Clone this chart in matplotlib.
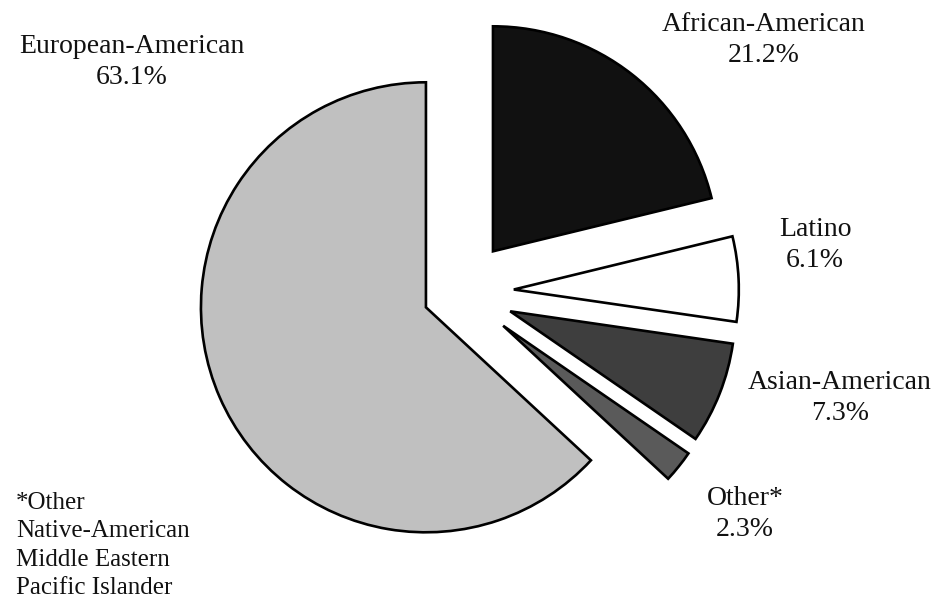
#!/usr/bin/env python3
"""Exploded pie chart of group shares, styled like a scanned print figure."""

import matplotlib
matplotlib.use("Agg")
import matplotlib.pyplot as plt

# --- data (clockwise from 12 o'clock) ---
groups = ["African-American", "Latino", "Asian-American", "Other*", "European-American"]
shares = [21.2, 6.1, 7.3, 2.3, 63.1]
footnote = ["*Other", "Native-American", "Middle Eastern", "Pacific Islander"]

# --- style ---
fills = ["#111111", "#ffffff", "#3e3e3e", "#5a5a5a", "#c0c0c0"]
explode = [0.23, 0.235, 0.235, 0.24, 0.17]
W, H = 937, 604
R_PX = 225            # pie radius in pixels
CX, CY = 461, 292     # pie centre in pixels (from top-left)

plt.rcParams["font.family"] = ["Liberation Serif", "DejaVu Serif"]

fig = plt.figure(figsize=(W / 100, H / 100), dpi=100)
ax = fig.add_axes([0, 0, 1, 1])

wedges, _ = ax.pie(shares, startangle=90, counterclock=False, explode=explode,
                   colors=fills, radius=1.0, center=(0, 0), frame=False,
                   wedgeprops=dict(edgecolor="black", linewidth=1.9, joinstyle="miter"))
ax.set_xlim(-CX / R_PX, (W - CX) / R_PX)
ax.set_ylim(-(H - CY) / R_PX, CY / R_PX)
ax.set_aspect("equal")
ax.axis("off")


def px(x, y):
    return x / W, 1 - y / H


# slice labels (name + share), positioned as in the print
label_pos = {
    "African-American": (764, 40),
    "Latino": (815, 245),
    "Asian-American": (840, 398),
    "Other*": (745, 514),
    "European-American": (132, 62),
}
for name, val in zip(groups, shares):
    x, y = px(*label_pos[name])
    fig.text(x, y, f"{name}\n{val}%", ha="center", va="center",
             fontsize=20, linespacing=1.3, color="#111111")

x, y = px(16, 492)
fig.text(x, y, "\n".join(footnote), ha="left", va="top",
         fontsize=18, linespacing=1.38, color="#111111")

fig.savefig("out.png", dpi=100, facecolor="white")
